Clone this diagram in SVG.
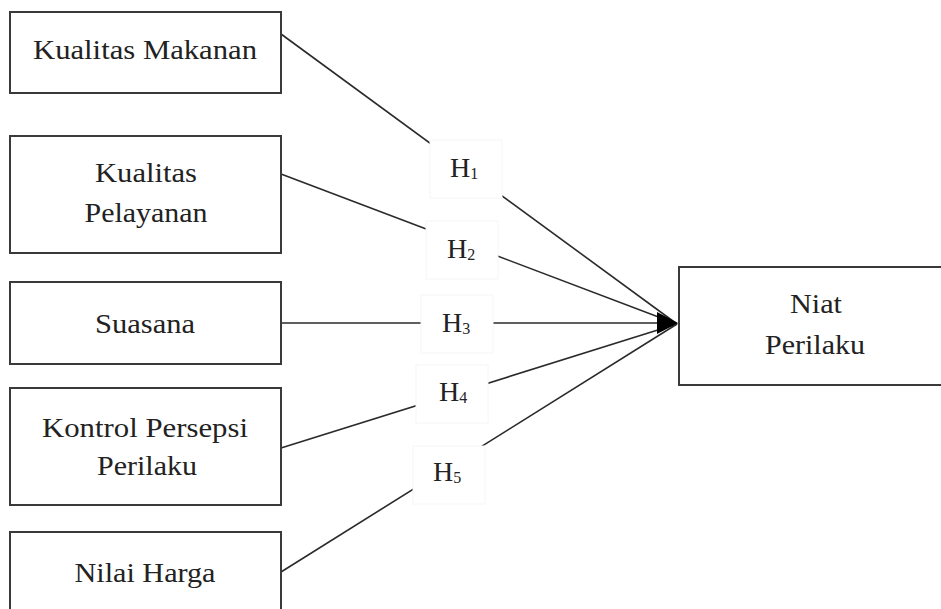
<svg xmlns="http://www.w3.org/2000/svg" width="941" height="609" viewBox="0 0 941 609" font-family="'Liberation Serif', 'DejaVu Serif', serif">
<style>
.box{fill:#fff;stroke:#3a3a3a;stroke-width:2}
.lbl{fill:#fff;stroke:#f6f6f6;stroke-width:1}
.t{font-size:27px;fill:#222;text-anchor:middle}
.h{font-size:28px;fill:#222}
.sub{font-size:16px}
.c{stroke:#2a2a2a;stroke-width:1.6;fill:none}
</style>
<rect width="941" height="609" fill="#fff"/>
<g id="connectors">
<line class="c" x1="281" y1="34" x2="677" y2="324"/>
<line class="c" x1="281" y1="174" x2="677" y2="324"/>
<line class="c" x1="281" y1="323" x2="657" y2="323"/>
<line class="c" x1="281" y1="448" x2="677" y2="324"/>
<line class="c" x1="281" y1="572" x2="677" y2="324"/>
<path d="M657,312 L678,323 L657,334 Z" fill="#000"/>
</g>
<g id="h1"><rect class="lbl" x="430" y="140" width="72" height="58"/><text class="h" x="450" y="177">H<tspan class="sub" dy="2">1</tspan></text></g>
<g id="h2"><rect class="lbl" x="426" y="221" width="72" height="58"/><text class="h" x="447" y="258">H<tspan class="sub" dy="2">2</tspan></text></g>
<g id="h3"><rect class="lbl" x="421" y="295" width="72" height="58"/><text class="h" x="442" y="332">H<tspan class="sub" dy="2">3</tspan></text></g>
<g id="h4"><rect class="lbl" x="416" y="365" width="72" height="58"/><text class="h" x="439" y="401">H<tspan class="sub" dy="2">4</tspan></text></g>
<g id="h5"><rect class="lbl" x="413" y="446" width="72" height="58"/><text class="h" x="433" y="481">H<tspan class="sub" dy="2">5</tspan></text></g>
<g id="kualitas-makanan"><rect class="box" x="10" y="12" width="271" height="81"/><text class="t" x="145" y="59" textLength="224" lengthAdjust="spacingAndGlyphs">Kualitas Makanan</text></g>
<g id="kualitas-pelayanan"><rect class="box" x="10" y="136" width="271" height="117"/><text class="t" x="146" y="182" textLength="102" lengthAdjust="spacingAndGlyphs">Kualitas</text><text class="t" x="146" y="222" textLength="123" lengthAdjust="spacingAndGlyphs">Pelayanan</text></g>
<g id="suasana"><rect class="box" x="10" y="282" width="271" height="82"/><text class="t" x="145" y="333" textLength="100" lengthAdjust="spacingAndGlyphs">Suasana</text></g>
<g id="kontrol"><rect class="box" x="10" y="388" width="271" height="117"/><text class="t" x="145" y="437" textLength="206" lengthAdjust="spacingAndGlyphs">Kontrol Persepsi</text><text class="t" x="147" y="475" textLength="100" lengthAdjust="spacingAndGlyphs">Perilaku</text></g>
<g id="nilai-harga"><rect class="box" x="10" y="532" width="271" height="90"/><text class="t" x="145" y="582" textLength="141" lengthAdjust="spacingAndGlyphs">Nilai Harga</text></g>
<g id="niat-perilaku"><rect class="box" x="679" y="267" width="280" height="118"/><text class="t" x="816" y="313" textLength="52" lengthAdjust="spacingAndGlyphs">Niat</text><text class="t" x="815" y="354" textLength="100" lengthAdjust="spacingAndGlyphs">Perilaku</text></g>
</svg>
